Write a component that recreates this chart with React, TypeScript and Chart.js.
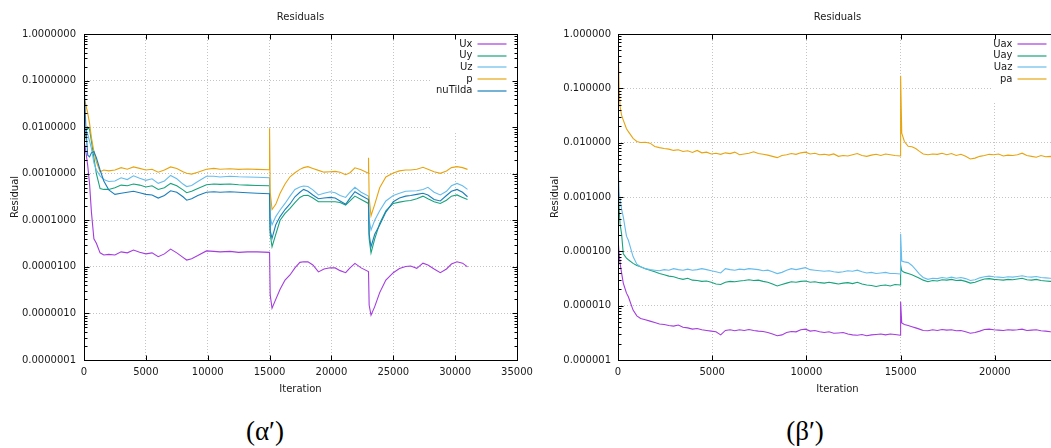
import React, { useEffect, useRef } from "react";
import { Chart, registerables } from "chart.js";

Chart.register(...registerables);

const FONT = '"DejaVu Sans", sans-serif';
const TEXT = "#1a1a1a";

// ---------- chart (α′) ----------
const ITER_A = [
  0, 150, 300, 450, 600, 800, 1000, 1300, 1600, 2000, 2500, 3000, 3500, 4000, 4500, 5000, 5500, 6000, 6500, 7000,
  7500, 8000, 8300, 8700, 9200, 9900, 10500, 11000, 11800, 12500, 13200, 14000, 14990,
  15000, 15050, 15200, 15500, 15850, 16250, 16650, 17050, 17450, 17750, 18100, 18500, 18950, 19400, 19900, 20300,
  20700, 21150, 21500, 21900, 22400, 22990,
  23000, 23050, 23200, 23500, 23900, 24400, 25000, 25500, 26000, 26400, 26900, 27400, 27800, 28300, 28800, 29300,
  29700, 30150, 30600, 31000,
];
const UX_A = [
  5.3e-3, 3e-3, 1.5e-3, 6e-4, 1.5e-4, 4e-5, 3.2e-5, 2e-5, 1.8e-5, 1.85e-5, 1.8e-5, 2.1e-5, 2e-5, 2.3e-5, 2.05e-5,
  1.9e-5, 2e-5, 1.65e-5, 1.9e-5, 2.4e-5, 2e-5, 1.6e-5, 1.4e-5, 1.5e-5, 1.75e-5, 2.2e-5, 2.15e-5, 2.1e-5, 2.15e-5,
  2.05e-5, 2.1e-5, 2.1e-5, 2.05e-5,
  2.0e-5, 2.5e-6, 1.29e-6, 2.0e-6, 3.3e-6, 5.2e-6, 6.7e-6, 9.5e-6, 1.25e-5, 1.29e-5, 1.28e-5, 1.1e-5, 7.8e-6, 9.0e-6,
  9.6e-6, 9.5e-6, 8.3e-6, 7.5e-6, 9.5e-6, 1.19e-5, 9.5e-6, 7.9e-6,
  7.5e-6, 1.5e-6, 9.2e-7, 1.4e-6, 2.8e-6, 5.2e-6, 7.5e-6, 9.2e-6, 1.02e-5, 1.04e-5, 9.3e-6, 1.2e-5, 1.1e-5, 9.0e-6,
  7.5e-6, 9.0e-6, 1.15e-5, 1.29e-5, 1.2e-5, 1.0e-5,
];
const UY_A = [
  4e-3, 8e-3, 1e-2, 9e-3, 5e-3, 2.2e-3, 1e-3, 4.8e-4, 4.6e-4, 4.6e-4, 5e-4, 5.7e-4, 5.5e-4, 6e-4, 5.7e-4, 5.2e-4,
  5.5e-4, 4.6e-4, 5e-4, 6.2e-4, 5.5e-4, 4.5e-4, 3.9e-4, 4.2e-4, 4.8e-4, 5.8e-4, 6e-4, 5.9e-4, 6e-4, 5.8e-4, 5.7e-4,
  5.6e-4, 5.5e-4,
  5.5e-4, 5e-5, 2.7e-5, 5e-5, 1e-4, 1.4e-4, 1.8e-4, 2.4e-4, 3.1e-4, 3.4e-4, 3.45e-4, 3e-4, 2.5e-4, 2.5e-4, 2.5e-4,
  2.5e-4, 2.4e-4, 2.13e-4, 2.6e-4, 3.3e-4, 2.8e-4, 2.3e-4,
  2.3e-4, 4e-5, 2e-5, 4e-5, 8.6e-5, 1.6e-4, 2.3e-4, 2.45e-4, 2.6e-4, 2.65e-4, 2.9e-4, 3.3e-4, 2.9e-4, 2.5e-4, 2.3e-4,
  2.7e-4, 3.3e-4, 3.5e-4, 3.1e-4, 2.8e-4,
];
const UZ_A = [
  6e-3, 9e-3, 7e-3, 5e-3, 3.5e-3, 1.7e-3, 1.2e-3, 9e-4, 7.5e-4, 6.8e-4, 7e-4, 8.2e-4, 7.5e-4, 9e-4, 8e-4, 7.2e-4,
  7.8e-4, 6.2e-4, 7e-4, 9.2e-4, 7.8e-4, 6e-4, 5.3e-4, 5.6e-4, 6.8e-4, 8.8e-4, 8.8e-4, 8.5e-4, 8.8e-4, 8.6e-4, 8.5e-4,
  8.4e-4, 8.2e-4,
  8.2e-4, 1.2e-4, 8e-5, 1.2e-4, 1.66e-4, 2.3e-4, 3.3e-4, 4.6e-4, 5.2e-4, 5.45e-4, 5.3e-4, 4.5e-4, 3.5e-4, 3.8e-4,
  4.1e-4, 3.9e-4, 3.4e-4, 3.1e-4, 4e-4, 5.1e-4, 4e-4, 3.3e-4,
  3.3e-4, 1e-4, 6.2e-5, 1e-4, 1.6e-4, 2.6e-4, 3.4e-4, 3.8e-4, 4.2e-4, 4.25e-4, 4.3e-4, 4.6e-4, 5.1e-4, 4e-4, 3.5e-4,
  4.2e-4, 5.5e-4, 6.2e-4, 5.5e-4, 4.6e-4,
];
const P_A = [
  4.5e-2, 3e-2, 2e-2, 1.2e-2, 6e-3, 3e-3, 1.8e-3, 1.1e-3, 1.2e-3, 1.15e-3, 1.2e-3, 1.35e-3, 1.25e-3, 1.4e-3, 1.3e-3,
  1.2e-3, 1.25e-3, 1.08e-3, 1.2e-3, 1.4e-3, 1.3e-3, 1.1e-3, 1.02e-3, 9.8e-4, 1.08e-3, 1.25e-3, 1.3e-3, 1.25e-3,
  1.28e-3, 1.24e-3, 1.26e-3, 1.24e-3, 1.22e-3,
  9.5e-3, 4e-4, 1.7e-4, 2.2e-4, 3.8e-4, 6e-4, 8.6e-4, 1.05e-3, 1.24e-3, 1.35e-3, 1.42e-3, 1.3e-3, 1.18e-3, 1.08e-3,
  1.1e-3, 1.12e-3, 1.08e-3, 9.5e-4, 1.05e-3, 1.34e-3, 1.22e-3, 1.02e-3,
  2.2e-3, 3e-4, 1.25e-4, 2.2e-4, 5e-4, 8.5e-4, 1.04e-3, 1.15e-3, 1.2e-3, 1.2e-3, 1.25e-3, 1.37e-3, 1.25e-3, 1.1e-3,
  1.02e-3, 1.15e-3, 1.35e-3, 1.42e-3, 1.35e-3, 1.24e-3,
];
const NUTILDA_A = [
  1e-1, 1e-2, 2.5e-3, 2.3e-3, 2.8e-3, 3e-3, 2.2e-3, 1.2e-3, 7e-4, 4.5e-4, 3.6e-4, 3.8e-4, 4e-4, 4.2e-4, 3.9e-4, 3.6e-4,
  3.5e-4, 3e-4, 3.4e-4, 4.3e-4, 4e-4, 3.2e-4, 2.7e-4, 2.9e-4, 3.4e-4, 4e-4, 4.1e-4, 4e-4, 4.1e-4, 4e-4, 3.9e-4,
  3.8e-4, 3.7e-4,
  3.7e-4, 6e-5, 4.1e-5, 8e-5, 1.2e-4, 1.7e-4, 2.24e-4, 3.2e-4, 4e-4, 4.6e-4, 4.2e-4, 3.5e-4, 2.9e-4, 3e-4, 3.1e-4,
  3e-4, 2.6e-4, 2.2e-4, 3e-4, 4.1e-4, 3.4e-4, 2.8e-4,
  2.8e-4, 5e-5, 2.7e-5, 5e-5, 7.9e-5, 1.5e-4, 2.5e-4, 3e-4, 3.3e-4, 3.4e-4, 3.6e-4, 3.8e-4, 3.5e-4, 2.8e-4, 2.6e-4,
  3.4e-4, 4.2e-4, 4.6e-4, 4e-4, 3.2e-4,
];
const X_TICKS_A = [0, 5000, 10000, 15000, 20000, 25000, 30000, 35000];
const Y_TICKS_A = [1e-7, 1e-6, 1e-5, 1e-4, 1e-3, 1e-2, 1e-1, 1];

// ---------- chart (β′) ----------
const ITER_B = [
  0, 10, 20, 60, 110, 190, 280, 450, 550, 800, 1000, 1200,
  1450, 1700, 1950, 2200, 2450, 2700, 2950, 3200, 3450, 3700, 3950, 4200, 4450, 4700, 4950, 5200, 5450, 5700, 5950,
  6200, 6450, 6700, 6950, 7200, 7450, 7700, 7950, 8200, 8450, 8700, 8950, 9200, 9450, 9700, 9950, 10200, 10450,
  10700, 10950, 11200, 11450, 11700, 11950, 12200, 12450, 12700, 12950, 13200, 13450, 13700, 13950, 14200, 14450,
  14700, 14990,
  15000, 15060, 15200, 15400, 15600, 15800, 16000, 16200,
  16450, 16700, 16950, 17200, 17450, 17700, 17950, 18200, 18450, 18700, 18950, 19200, 19450, 19700, 19950, 20200,
  20450, 20700, 20950, 21200, 21450, 21700, 21950, 22200, 22450, 22700, 22950, 23200,
];
const UAX_B = [
  3e-4, 2.5e-4, 1.5e-4, 9e-5, 6e-5, 4e-5, 2.6e-5, 1.7e-5, 1.46e-5, 8.3e-6, 6.5e-6, 5.8e-6,
  5.5e-6, 5.2e-6, 4.9e-6, 4.6e-6, 4.5e-6, 4.3e-6, 4.2e-6, 4.4e-6, 4.0e-6, 3.9e-6, 3.7e-6, 3.8e-6, 3.6e-6, 3.5e-6,
  3.4e-6, 3.3e-6, 2.9e-6, 3.5e-6, 3.6e-6, 3.45e-6, 3.6e-6, 3.5e-6, 3.65e-6, 3.5e-6, 3.4e-6, 3.35e-6, 3.2e-6, 3.0e-6,
  2.8e-6, 2.9e-6, 3.2e-6, 3.35e-6, 3.3e-6, 3.6e-6, 3.7e-6, 3.4e-6, 3.5e-6, 3.3e-6, 3.2e-6, 3.3e-6, 3.1e-6, 3.15e-6,
  3.2e-6, 3.0e-6, 2.9e-6, 2.85e-6, 2.95e-6, 2.8e-6, 2.9e-6, 2.95e-6, 3.0e-6, 2.9e-6, 3.0e-6, 2.95e-6, 2.85e-6,
  1.18e-5, 4.8e-6, 4.5e-6, 4.3e-6, 4.1e-6, 3.9e-6, 3.7e-6, 3.5e-6,
  3.45e-6, 3.6e-6, 3.5e-6, 3.65e-6, 3.55e-6, 3.6e-6, 3.45e-6, 3.5e-6, 3.3e-6, 3.1e-6, 3.2e-6, 3.4e-6, 3.65e-6,
  3.7e-6, 3.6e-6, 3.55e-6, 3.5e-6, 3.6e-6, 3.55e-6, 3.6e-6, 3.7e-6, 3.5e-6, 3.55e-6, 3.6e-6, 3.45e-6, 3.4e-6,
  3.3e-6, 3.25e-6,
];
const UAY_B = [
  5e-7, 5e-3, 1.5e-3, 6e-4, 3.2e-4, 2.1e-4, 9e-5, 7.5e-5, 7e-5, 6e-5, 5.5e-5, 5.2e-5,
  4.8e-5, 4.5e-5, 4.2e-5, 3.9e-5, 3.7e-5, 3.5e-5, 3.4e-5, 3.2e-5, 3.05e-5, 3.2e-5, 2.95e-5, 2.9e-5, 2.8e-5, 2.85e-5,
  2.7e-5, 2.5e-5, 2.45e-5, 2.7e-5, 2.8e-5, 2.75e-5, 2.85e-5, 2.9e-5, 3.0e-5, 2.9e-5, 2.95e-5, 2.8e-5, 2.7e-5, 2.5e-5,
  2.3e-5, 2.45e-5, 2.6e-5, 2.75e-5, 2.7e-5, 2.8e-5, 2.85e-5, 2.7e-5, 2.75e-5, 2.65e-5, 2.6e-5, 2.7e-5, 2.6e-5,
  2.5e-5, 2.6e-5, 2.65e-5, 2.55e-5, 2.7e-5, 2.5e-5, 2.4e-5, 2.35e-5, 2.25e-5, 2.35e-5, 2.4e-5, 2.3e-5, 2.45e-5,
  2.4e-5,
  5.5e-5, 4.4e-5, 4.1e-5, 3.9e-5, 3.7e-5, 3.45e-5, 3.2e-5, 2.95e-5,
  2.75e-5, 2.9e-5, 2.85e-5, 3.0e-5, 2.95e-5, 3.05e-5, 2.9e-5, 2.95e-5, 2.8e-5, 2.6e-5, 2.7e-5, 2.9e-5, 3.1e-5,
  3.15e-5, 3.05e-5, 3.0e-5, 2.95e-5, 3.05e-5, 3.0e-5, 3.1e-5, 3.2e-5, 3.0e-5, 2.95e-5, 3.05e-5, 2.9e-5, 2.85e-5,
  2.8e-5, 2.75e-5,
];
const UAZ_B = [
  5e-7, 4.5e-2, 3e-3, 1.2e-3, 9e-4, 6e-4, 4.3e-4, 1.9e-4, 1.6e-4, 8e-5, 5.8e-5, 5.2e-5,
  4.8e-5, 4.6e-5, 4.5e-5, 4.4e-5, 4.6e-5, 4.5e-5, 4.8e-5, 4.6e-5, 4.5e-5, 4.7e-5, 4.5e-5, 4.6e-5, 4.8e-5, 4.6e-5,
  4.4e-5, 4.2e-5, 4.0e-5, 4.8e-5, 4.6e-5, 4.5e-5, 4.7e-5, 4.6e-5, 4.8e-5, 4.7e-5, 4.6e-5, 4.4e-5, 4.5e-5, 4.2e-5,
  3.9e-5, 4.1e-5, 4.5e-5, 4.8e-5, 4.6e-5, 4.8e-5, 5.0e-5, 4.6e-5, 4.5e-5, 4.4e-5, 4.3e-5, 4.4e-5, 4.2e-5, 4.1e-5,
  4.2e-5, 4.4e-5, 4.3e-5, 4.5e-5, 4.2e-5, 4.0e-5, 4.1e-5, 3.9e-5, 4.0e-5, 4.1e-5, 3.9e-5, 3.9e-5, 3.83e-5,
  2.1e-4, 6.6e-5, 6.4e-5, 6.2e-5, 5.5e-5, 4.6e-5, 3.8e-5, 3.3e-5,
  3.05e-5, 3.2e-5, 3.15e-5, 3.3e-5, 3.2e-5, 3.35e-5, 3.2e-5, 3.3e-5, 3.15e-5, 2.9e-5, 3.0e-5, 3.25e-5, 3.4e-5,
  3.5e-5, 3.4e-5, 3.35e-5, 3.3e-5, 3.4e-5, 3.35e-5, 3.45e-5, 3.55e-5, 3.4e-5, 3.35e-5, 3.45e-5, 3.3e-5, 3.25e-5,
  3.2e-5, 3.15e-5,
];
const PA_B = [
  1.0, 0.9, 0.5, 0.1, 4.6e-2, 3.2e-2, 2.6e-2, 1.8e-2, 1.6e-2, 1.2e-2, 1.05e-2, 1.01e-2,
  1.02e-2, 9.8e-3, 8.5e-3, 8.1e-3, 7.8e-3, 7.6e-3, 7.2e-3, 7.4e-3, 6.9e-3, 7.1e-3, 6.6e-3, 7.2e-3, 6.5e-3, 6.7e-3,
  6.2e-3, 6.4e-3, 6.1e-3, 6.5e-3, 6.3e-3, 6.7e-3, 6.0e-3, 6.2e-3, 6.4e-3, 6.8e-3, 6.3e-3, 6.1e-3, 5.9e-3, 5.6e-3,
  5.3e-3, 5.8e-3, 6.0e-3, 6.3e-3, 6.1e-3, 6.5e-3, 6.7e-3, 6.2e-3, 6.4e-3, 6.0e-3, 6.1e-3, 5.9e-3, 6.2e-3, 5.6e-3,
  5.8e-3, 5.7e-3, 6.0e-3, 6.3e-3, 5.8e-3, 5.6e-3, 5.9e-3, 6.1e-3, 5.8e-3, 6.2e-3, 6.0e-3, 5.8e-3, 5.7e-3,
  0.17, 1.5e-2, 1.05e-2, 8.6e-3, 8.4e-3, 7.8e-3, 6.9e-3, 6.2e-3,
  6.0e-3, 6.2e-3, 6.1e-3, 6.4e-3, 6.0e-3, 6.3e-3, 5.8e-3, 6.1e-3, 5.6e-3, 5.0e-3, 5.2e-3, 5.6e-3, 5.8e-3, 6.1e-3,
  6.0e-3, 6.2e-3, 5.7e-3, 5.9e-3, 5.8e-3, 6.0e-3, 6.4e-3, 5.8e-3, 5.6e-3, 5.4e-3, 5.8e-3, 5.5e-3, 5.6e-3, 5.4e-3,
];
const X_TICKS_B = [0, 5000, 10000, 15000, 20000];
const Y_TICKS_B = [1e-6, 1e-5, 1e-4, 1e-3, 1e-2, 1e-1, 1];

const C_PURPLE = "#a43cde";
const C_GREEN = "#17a37b";
const C_SKY = "#66bcec";
const C_ORANGE = "#e8a410";
const C_BLUE = "#1a7fbb";

const gnuFrame = {
  id: "gnuFrame",
  beforeDatasetsDraw(chart: any, _args: any, opts: any) {
    const a = chart.chartArea;
    const ctx = chart.ctx;
    ctx.save();
    ctx.fillStyle = "#ffffff";
    ctx.fillRect(a.right - opts.keyW, a.top + 1, opts.keyW, opts.keyH);
    ctx.restore();
  },
  afterDraw(chart: any, _args: any, opts: any) {
    const { ctx, chartArea: a, scales } = chart;
    const al = (v: number) => Math.round(v) + 0.5;
    const L = al(a.left), R = al(a.right), T = al(a.top), B = al(a.bottom);
    ctx.save();
    ctx.strokeStyle = "#000000";
    ctx.lineWidth = 1;
    ctx.beginPath();
    for (const v of opts.xTicks as number[]) {
      const px = al(scales.x.getPixelForValue(v));
      ctx.moveTo(px, B); ctx.lineTo(px, B - 5);
      ctx.moveTo(px, T); ctx.lineTo(px, T + 5);
    }
    const yt = opts.yTicks as number[];
    for (let i = 0; i < yt.length; i++) {
      const mults = i === yt.length - 1 ? [1] : [1, 2, 3, 4, 5, 6, 7, 8, 9];
      for (const m of mults) {
        const py = al(scales.y.getPixelForValue(m * yt[i]));
        const len = m === 1 ? 5 : 3;
        ctx.moveTo(L, py); ctx.lineTo(L + len, py);
        ctx.moveTo(R, py); ctx.lineTo(R - len, py);
      }
    }
    ctx.stroke();
    ctx.strokeRect(L, T, R - L, B - T);
    // key
    ctx.font = `10px ${FONT}`;
    ctx.textAlign = "right";
    ctx.textBaseline = "middle";
    const labels = opts.labels as string[];
    const colors = opts.colors as string[];
    labels.forEach((label: string, i: number) => {
      const y = a.top + 10 + i * 11.67;
      ctx.fillStyle = TEXT;
      ctx.fillText(label, a.right - 44.5, y);
      ctx.strokeStyle = colors[i];
      ctx.lineWidth = 1.2;
      ctx.beginPath();
      ctx.moveTo(a.right - 39.5, Math.round(y));
      ctx.lineTo(a.right - 10.5, Math.round(y));
      ctx.stroke();
    });
    ctx.restore();
  },
};

type Series = { label: string; color: string; values: number[] };

type Props = {
  left: number;
  iters: number[];
  series: Series[];
  xMax: number;
  xTicks: number[];
  yTicks: number[];
  decimals: number;
  yAxisWidth: number;
  labelPad: number;
  keyW: number;
  keyH: number;
};

function ResidualChart(p: Props) {
  const ref = useRef<HTMLCanvasElement>(null);
  useEffect(() => {
    const font = { family: FONT, size: 10, weight: "normal" as const };
    const grid = { color: "#c4c4c4", lineWidth: 1, drawTicks: false };
    const border = { display: false, dash: [1, 2] };
    const chart = new Chart(ref.current!, {
      type: "line",
      data: {
        datasets: p.series.map((s, i) => ({
          label: s.label,
          data: p.iters.map((x, j) => ({ x, y: s.values[j] })),
          borderColor: s.color,
          backgroundColor: s.color,
          borderWidth: 1.1,
          pointRadius: 0,
          fill: false,
          tension: 0,
          order: p.series.length - i,
        })),
      },
      options: {
        responsive: false,
        animation: false,
        events: [],
        layout: { padding: { left: 0, right: 23, top: 0, bottom: 0 } },
        plugins: {
          legend: { display: false },
          tooltip: { enabled: false },
          title: {
            display: true,
            text: "Residuals",
            fullSize: false,
            color: TEXT,
            font,
            padding: { top: 11, bottom: 11 },
          },
          gnuFrame: {
            keyW: p.keyW,
            keyH: p.keyH,
            xTicks: p.xTicks,
            yTicks: p.yTicks,
            labels: p.series.map((s) => s.label),
            colors: p.series.map((s) => s.color),
          },
        } as any,
        scales: {
          x: {
            type: "linear",
            min: 0,
            max: p.xMax,
            afterBuildTicks: (s: any) => {
              s.ticks = p.xTicks.map((v) => ({ value: v }));
            },
            afterFit: (s: any) => {
              s.height = 40;
            },
            ticks: { callback: (v: any) => String(v), color: TEXT, font, padding: 6, maxRotation: 0, autoSkip: false },
            grid,
            border,
            title: { display: true, text: "Iteration", color: TEXT, font, padding: { top: 0, bottom: 5 } },
          },
          y: {
            type: "logarithmic",
            min: p.yTicks[0],
            max: 1,
            afterBuildTicks: (s: any) => {
              s.ticks = p.yTicks.map((v) => ({ value: v }));
            },
            afterFit: (s: any) => {
              s.width = p.yAxisWidth;
            },
            ticks: {
              callback: (v: any) => Number(v).toFixed(p.decimals),
              color: TEXT,
              font,
              padding: p.labelPad,
              autoSkip: false,
            },
            grid,
            border,
            title: { display: true, text: "Residual", color: TEXT, font, padding: { top: 9, bottom: 0 } },
          },
        },
      } as any,
      plugins: [gnuFrame],
    });
    return () => chart.destroy();
  }, []);
  return <canvas ref={ref} width={540} height={400} style={{ position: "absolute", left: p.left, top: 0 }} />;
}

const captionStyle: React.CSSProperties = {
  position: "absolute",
  top: 416,
  width: 100,
  textAlign: "center",
  fontFamily: '"Liberation Serif", "DejaVu Serif", serif',
  fontSize: 27,
  lineHeight: "30px",
  color: "#000",
};

export default function App() {
  return (
    <div
      style={{
        position: "fixed",
        left: 0,
        top: 0,
        width: 1051,
        height: 448,
        overflow: "hidden",
        background: "#fff",
      }}
    >
      <ResidualChart
        left={0}
        iters={ITER_A}
        series={[
          { label: "Ux", color: C_PURPLE, values: UX_A },
          { label: "Uy", color: C_GREEN, values: UY_A },
          { label: "Uz", color: C_SKY, values: UZ_A },
          { label: "p", color: C_ORANGE, values: P_A },
          { label: "nuTilda", color: C_BLUE, values: NUTILDA_A },
        ]}
        xMax={35000}
        xTicks={X_TICKS_A}
        yTicks={Y_TICKS_A}
        decimals={7}
        yAxisWidth={84}
        labelPad={8}
        keyW={85}
        keyH={96}
      />
      <ResidualChart
        left={540}
        iters={ITER_B}
        series={[
          { label: "Uax", color: C_PURPLE, values: UAX_B },
          { label: "Uay", color: C_GREEN, values: UAY_B },
          { label: "Uaz", color: C_SKY, values: UAZ_B },
          { label: "pa", color: C_ORANGE, values: PA_B },
        ]}
        xMax={23300}
        xTicks={X_TICKS_B}
        yTicks={Y_TICKS_B}
        decimals={6}
        yAxisWidth={78}
        labelPad={7}
        keyW={64}
        keyH={66}
      />
      <div style={{ ...captionStyle, left: 215 }}>(α′)</div>
      <div style={{ ...captionStyle, left: 755 }}>(β′)</div>
    </div>
  );
}
